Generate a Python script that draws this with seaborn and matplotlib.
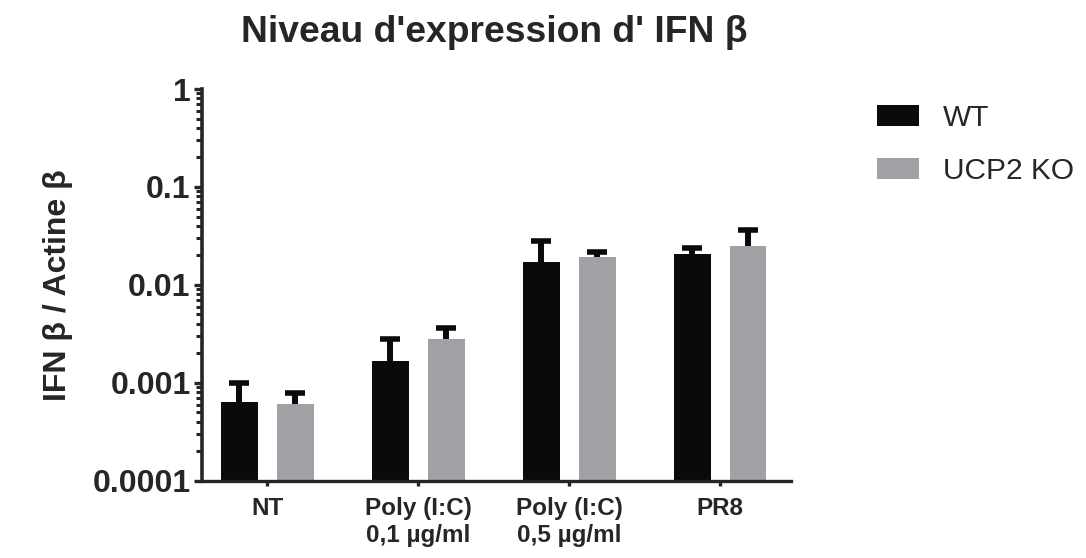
import matplotlib
matplotlib.use("Agg")
import matplotlib.pyplot as plt
from matplotlib.patches import Patch
from matplotlib.ticker import LogLocator, FixedLocator, FixedFormatter, NullFormatter
import numpy as np
import pandas as pd
import seaborn as sns

# Relative IFN-beta expression (normalised to beta-actin), mean and SEM
conditions = ["NT", "Poly (I:C)\n0,1 µg/ml", "Poly (I:C)\n0,5 µg/ml", "PR8"]
genotypes = ["WT", "UCP2 KO"]
wt_mean = [0.00064, 0.00166, 0.0171, 0.0206]
wt_sem = [0.00035, 0.00118, 0.0110, 0.0031]
ko_mean = [0.000616, 0.00284, 0.0194, 0.0250]
ko_sem = [0.000174, 0.00080, 0.0025, 0.0114]
y_ticks = [0.0001, 0.001, 0.01, 0.1, 1]
y_tick_labels = ["0.0001", "0.001", "0.01", "0.1", "1"]

colors = {"WT": "#0a0a0a", "UCP2 KO": "#a1a1a5"}

df = pd.DataFrame({
    "condition": conditions * 2,
    "genotype": ["WT"] * 4 + ["UCP2 KO"] * 4,
    "value": wt_mean + ko_mean,
    "sem": wt_sem + ko_sem,
})

sns.set_style("ticks")
plt.rcParams["font.family"] = ["Liberation Sans", "DejaVu Sans"]
plt.rcParams["font.weight"] = "bold"

fig = plt.figure(figsize=(10.86, 5.58), dpi=100)
ax = fig.add_axes([0.1857, 0.138, 0.5424, 0.7025])
ax.set_yscale("log")

sns.barplot(data=df, x="condition", y="value", hue="genotype",
            order=conditions, hue_order=genotypes, palette=colors,
            width=0.74, gap=0.338, errorbar=None, saturation=1,
            linewidth=0, legend=False, ax=ax, zorder=2)

# Upward-only SEM bars placed on the drawn bars
for gi, g in enumerate(genotypes):
    sub = df[df["genotype"] == g].set_index("condition").loc[conditions]
    bars = ax.containers[gi]
    xs = [b.get_x() + b.get_width() / 2 for b in bars]
    means = sub["value"].values
    _, caps, _ = ax.errorbar(xs, means,
                             yerr=[np.zeros(len(xs)), sub["sem"].values],
                             fmt="none", ecolor="#0a0a0a", elinewidth=4.3,
                             capsize=7.0, capthick=4.0, zorder=1)
    # the cap sitting on the bar top is not shown
    for cap in caps:
        if np.allclose(cap.get_ydata(), means):
            cap.set_visible(False)

ax.set_ylim(1e-4, 1)
ax.set_xlim(-0.435, 3.468)
ax.yaxis.set_major_locator(FixedLocator(y_ticks))
ax.yaxis.set_major_formatter(FixedFormatter(y_tick_labels))
ax.yaxis.set_minor_locator(LogLocator(base=10, subs=np.arange(2, 10), numticks=20))
ax.yaxis.set_minor_formatter(NullFormatter())

for side in ["top", "right"]:
    ax.spines[side].set_visible(False)
ax.spines["left"].set_linewidth(2.6)
ax.spines["bottom"].set_linewidth(2.4)

ax.tick_params(axis="y", which="major", length=6, width=2.4, pad=2,
               labelsize=23)
ax.tick_params(axis="y", which="minor", length=4, width=2.2)
ax.tick_params(axis="x", which="major", length=3.5, width=2.4, pad=8,
               labelsize=17.5)
for lab in ax.get_xticklabels() + ax.get_yticklabels():
    lab.set_fontweight("bold")
ax.set_xlabel("")
ax.set_ylabel("IFN β / Actine β", fontsize=23, fontweight="bold", labelpad=14)

fig.text(0.455, 0.942, "Niveau d'expression d' IFN β", ha="center",
         va="center", fontsize=26.8, fontweight="bold")

handles = [Patch(facecolor=colors[g], edgecolor="none") for g in genotypes]
fig.legend(handles, genotypes, loc="upper left",
           bbox_to_anchor=(0.8076, 0.814), frameon=False,
           prop={"size": 21.5, "weight": "normal"},
           handlelength=1.4, handleheight=0.7, handletextpad=0.8,
           labelspacing=0.84, borderaxespad=0, borderpad=0)

fig.savefig("out.png", dpi=100)
